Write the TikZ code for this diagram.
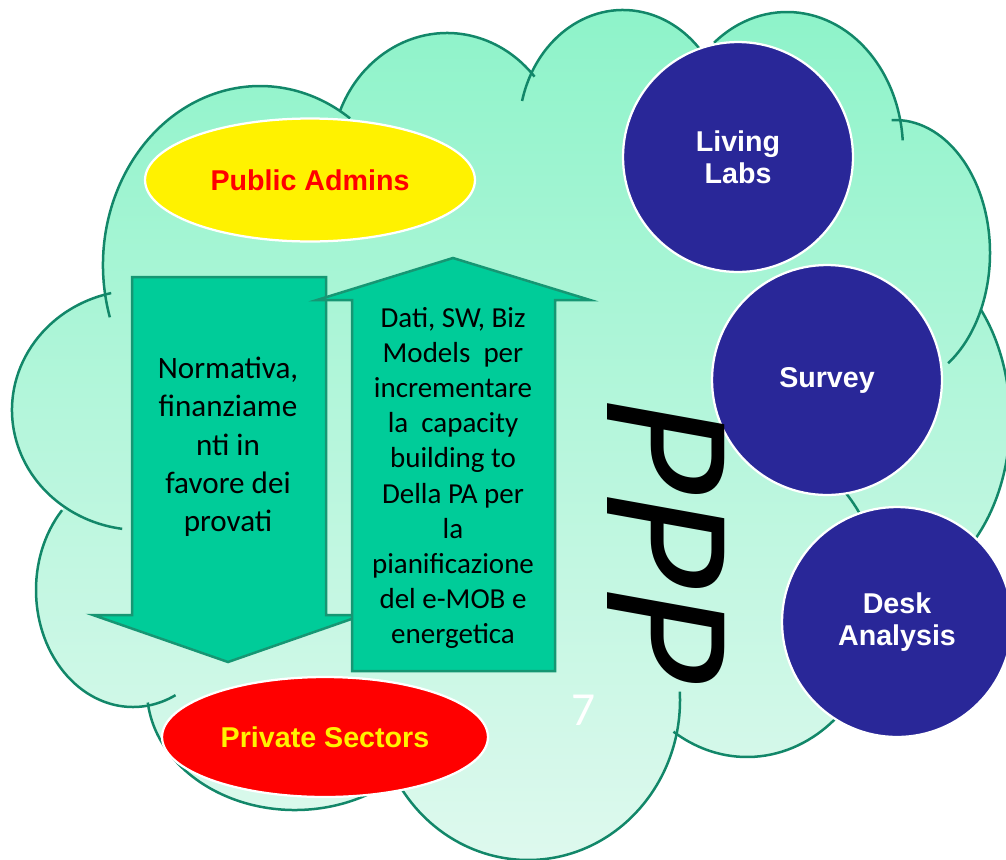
\documentclass[tikz,border=0pt]{standalone}
\usepackage{fontspec}
\setmainfont{Carlito}
\setsansfont{Liberation Sans}
\newfontfamily\pppfont{Carlito}[FakeSlant=0.18]
\usetikzlibrary{shapes}

\definecolor{cloudtop}{RGB}{141,243,201}
\definecolor{cloudbot}{RGB}{222,249,238}
\definecolor{cloudedge}{RGB}{18,135,105}
\definecolor{arrowfill}{RGB}{0,204,153}
\definecolor{arrowedge}{RGB}{22,150,115}
\definecolor{lobeblue}{RGB}{41,39,152}

\tikzset{
  cloudline/.style={draw=cloudedge, line width=0.05cm},
  cloudfill/.style={top color=cloudtop, bottom color=cloudbot},
  blockarrow/.style={fill=arrowfill, draw=arrowedge, line width=0.05cm},
  bodytext/.style={align=center, inner sep=0pt},
  oval/.style={ellipse, draw=white, line width=0.045cm, inner sep=0pt,
    font=\sffamily\bfseries\fontsize{16.3}{18.1}\selectfont},
  bubble/.style={circle, fill=lobeblue, draw=white, line width=0.045cm,
    minimum size=4.6cm, inner sep=0pt, align=center, text=white,
    font=\sffamily\bfseries\fontsize{16.3}{18.1}\selectfont},
}

\begin{document}
\begin{tikzpicture}[x=0.02cm, y=-0.02cm]
\useasboundingbox (0,0) rectangle (1006,859);
\clip (0,0) rectangle (1006,859);

% cloud body: each lobe gets the same page-wide gradient
\foreach \cx/\cy/\rx/\ry in {260/265/157/179, 447/160/116/127, 623/130/104/120,
    787/150/116/138, 895/253/95/133, 890/420/120/169, 747/600/135/157,
    528/700/152/160, 295/690/148/120, 133/590/97/117, 140/410/128/120}{
  \begin{scope}
    \clip (\cx,\cy) ellipse [x radius=\rx, y radius=\ry];
    \shade[cloudfill] (0,0) rectangle (1006,859);
  \end{scope}
}
\begin{scope}
  \clip (260,265) -- (447,160) -- (623,130) -- (787,150) -- (895,253) -- (890,420)
    -- (747,600) -- (528,700) -- (295,690) -- (133,590) -- (140,410) -- cycle;
  \shade[cloudfill] (0,0) rectangle (1006,859);
\end{scope}
% cloud outline, lobe by lobe
\foreach \cx/\cy/\rx/\ry/\sa/\ea in {260/265/157/179/163/305, 447/160/116/127/203/319,
    623/130/104/120/194/317, 787/150/116/138/231/356, 895/253/95/133/-92/56,
    890/420/120/169/-41/50, 747/600/135/157/-44/123, 528/700/152/160/-3/150,
    295/690/148/120/174/45, 133/590/97/117/223/64, 140/410/128/120/257/98}{
  \draw[cloudline] (\cx,\cy) ++({\rx*cos(\sa)},{\ry*sin(\sa)})
    arc[start angle=\sa, end angle=\ea, x radius=\rx, y radius=\ry];
}

% block arrows
\draw[blockarrow] (132,277) -- (326,277) -- (326,615) -- (363,615) -- (228,662)
  -- (93,615) -- (132,615) -- cycle;
\draw[blockarrow] (352,671) -- (352,300) -- (317,300) -- (453,258) -- (590,300)
  -- (555,300) -- (555,671) -- cycle;

\node[bodytext, font=\fontsize{17.7}{21.8}\selectfont] (norme) at (228,447)
  {Normativa,\\finanziame\\nti in\\favore dei\\provati};
\node[bodytext, font=\fontsize{16.5}{20}\selectfont] (dati) at (453,478)
  {Dati, SW, Biz\\Models\ \ per\\incrementare\\la\ \ capacity\\building to\\Della PA per\\la\\pianificazione\\del e-MOB e\\energetica};

% actors
\node[oval, fill=yellow, text=red, minimum width=6.6cm, minimum height=2.46cm]
  (public) at (310,180) {Public Admins};
\node[oval, fill=red, text=yellow, minimum width=6.52cm, minimum height=2.4cm]
  (private) at (325,737) {Private Sectors};

\node[bubble] (living) at (738,157) {Living\\Labs};
\node[bubble] (survey) at (827,380) {Survey};
\node[bubble] (desk) at (897,622) {Desk\\Analysis};

\node[rotate=-90, inner sep=0pt, font=\pppfont\fontsize{104}{106}\selectfont]
  (ppp) at (666,532) {PPP};
\node[text=white, font=\fontsize{27}{30}\selectfont] (pagenum) at (584,710) {7};
\end{tikzpicture}
\end{document}
